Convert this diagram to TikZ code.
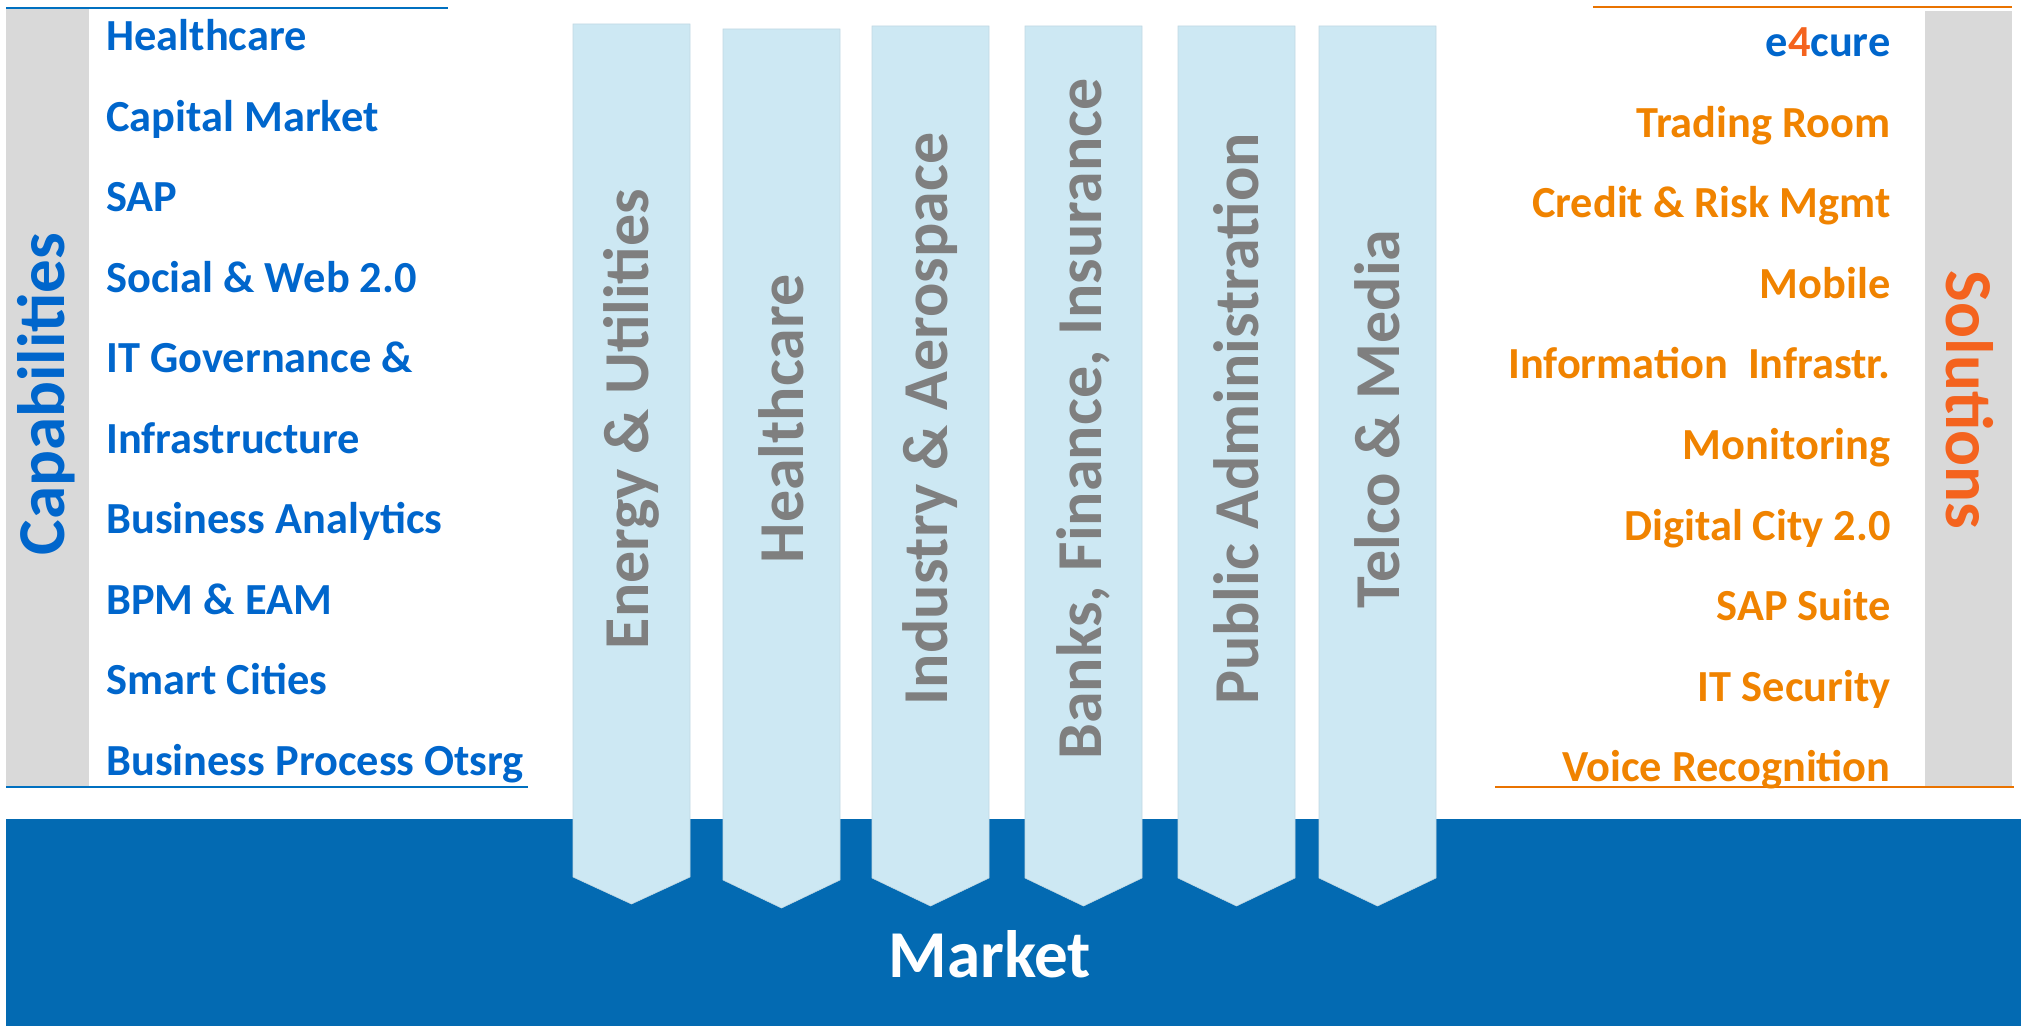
\documentclass[tikz,border=0pt]{standalone}
\usepackage{fontspec}
\setmainfont{Carlito}
\definecolor{capblue}{HTML}{0066CC}
\definecolor{lineblue}{HTML}{0070C0}
\definecolor{marketblue}{HTML}{036AB2}
\definecolor{bargray}{HTML}{D9D9D9}
\definecolor{arrowfill}{HTML}{CDE8F3}
\definecolor{arrowtext}{HTML}{7F7F7F}
\definecolor{solorange}{HTML}{F08300}
\definecolor{lineorange}{HTML}{E97300}
\definecolor{solred}{HTML}{F4631E}
\begin{document}
\begin{tikzpicture}[x=0.5pt,y=-0.5pt,
  capitem/.style={anchor=base west,inner sep=0pt,text=capblue,font=\bfseries\fontsize{22.2pt}{26pt}\selectfont},
  solitem/.style={anchor=base east,inner sep=0pt,text=solorange,font=\bfseries\fontsize{22.2pt}{26pt}\selectfont},
  sidetitle/.style={inner sep=0pt,font=\bfseries\fontsize{33.5pt}{38pt}\selectfont},
  arrowlabel/.style={inner sep=0pt,rotate=90,text=arrowtext,font=\bfseries\fontsize{32pt}{36pt}\selectfont},
  chevron/.style={fill=arrowfill,draw=arrowfill!85!gray,line width=0.3pt}]
\useasboundingbox (0,0) rectangle (2021,1026);
% market band
\fill[marketblue] (6,819) rectangle (2021,1026);
\node[sidetitle,anchor=base,text=white] (market) at (990,977) {Market};
% left panel
\fill[bargray] (6,9) rectangle (89,786);
\draw[lineblue,line width=1.4pt] (6,8) -- (448,8);
\draw[lineblue,line width=1.4pt] (6,787) -- (528,787);
\node[sidetitle,rotate=90,text=capblue] (captitle) at (46,394) {Capabilities};
\foreach \t [count=\i from 0] in {Healthcare,Capital Market,SAP,Social \& Web 2.0,IT Governance \&,Infrastructure,Business Analytics,BPM \& EAM,Smart Cities,Business Process Otsrg}
  \node[capitem] (cap\i) at (106,{50.8+80.5*\i}) {\t};
% right panel
\fill[bargray] (1925,11) rectangle (2012,786);
\draw[lineorange,line width=1.4pt] (1593,7) -- (2012,7);
\draw[lineorange,line width=1.4pt] (1495,787) -- (2014,787);
\node[sidetitle,rotate=-90,text=solred] (soltitle) at (1970,400) {Solutions};
\node[solitem,text=capblue] (sol0) at (1891,56.5) {e\textcolor{solred}{4}cure};
\foreach \t [count=\i] in {Trading Room,Credit \& Risk Mgmt,Mobile,Information\ \ Infrastr.,Monitoring,Digital City 2.0,SAP Suite,IT Security,Voice Recognition}
  \node[solitem] (sol\i) at (1891,{56.5+80.6*\i}) {\t};
% vertical arrows
\foreach \xl/\yt/\yb/\ytip/\t [count=\i] in {573/24/877/904/{Energy \& Utilities},723/29/880/908/{Healthcare},872/26/878/906/{Industry \& Aerospace},1025/26/878/906/{Banks, Finance, Insurance},1178/26/878/906/{Public Administration},1319/26/878/906/{Telco \& Media}}{
  \draw[chevron] (\xl,\yt) -- (\xl+117,\yt) -- (\xl+117,\yb) -- (\xl+58.5,\ytip) -- (\xl,\yb) -- cycle;
  \node[arrowlabel] (ind\i) at (\xl+58.5,419) {\t};
}
\end{tikzpicture}
\end{document}
